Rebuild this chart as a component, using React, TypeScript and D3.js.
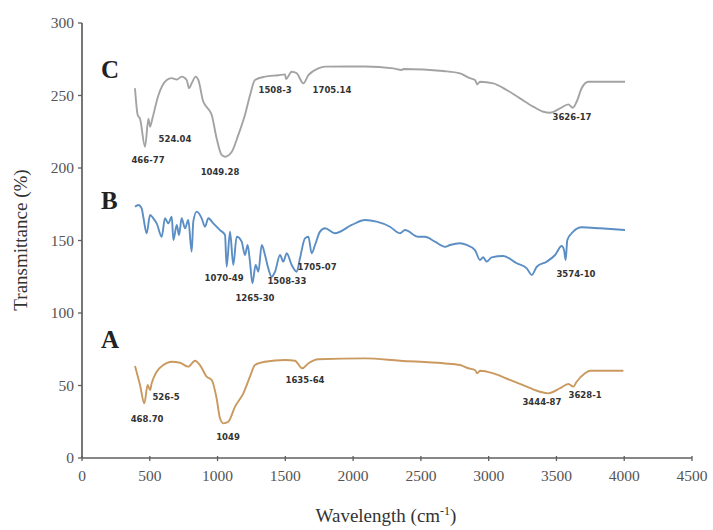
import React from "react";
import * as d3 from "d3";

const W = 713;
const H = 530;

const xTicks = [0, 500, 1000, 1500, 2000, 2500, 3000, 3500, 4000, 4500];
const yTicks = [0, 50, 100, 150, 200, 250, 300];

// Spectrum C (gray)
const cWave = [391, 411, 428, 465, 490, 502, 519, 563, 625, 662, 699, 735, 772, 790, 809, 839, 858, 895, 920, 957, 993, 1030, 1055, 1104, 1153, 1202, 1239, 1276, 1350, 1448, 1498, 1505, 1547, 1584, 1633, 1670, 1743, 1793, 2088, 2296, 2358, 2370, 2665, 2789, 2838, 2862, 2899, 2916, 2936, 3034, 3133, 3231, 3329, 3403, 3452, 3526, 3588, 3620, 3649, 3686, 3735, 4006];
const cTrans = [255, 236.5, 234, 214.7, 234, 228.5, 234, 250, 260.7, 262, 261, 263, 260.7, 255, 258.4, 263, 260.7, 245.7, 242, 236.5, 220.5, 209, 207.8, 211, 222.8, 236.5, 250, 260.7, 263, 264, 264.6, 261.4, 266.4, 265.3, 258.4, 264, 268.7, 269.9, 270, 268.7, 267.6, 268.3, 266.9, 265.3, 263, 261.9, 260.7, 257.7, 259.5, 258.4, 253.8, 248, 242.3, 238.8, 238.1, 241.1, 243.9, 241.6, 245.7, 255, 259.5, 259.5];

// Spectrum B (blue)
const bWave = [391, 416, 440, 452, 477, 502, 526, 551, 588, 612, 637, 662, 674, 699, 716, 735, 760, 784, 809, 821, 846, 883, 907, 932, 969, 1018, 1055, 1067, 1092, 1116, 1141, 1178, 1202, 1222, 1239, 1257, 1281, 1301, 1326, 1350, 1374, 1399, 1424, 1461, 1485, 1510, 1547, 1584, 1608, 1645, 1670, 1694, 1719, 1756, 1793, 1866, 1990, 2088, 2174, 2272, 2346, 2383, 2481, 2530, 2604, 2678, 2715, 2789, 2838, 2899, 2936, 2960, 2985, 3022, 3108, 3207, 3281, 3318, 3355, 3428, 3490, 3539, 3556, 3568, 3580, 3624, 3686, 3821, 4006];
const bTrans = [173.3, 174.5, 172.2, 166.4, 155, 167.6, 165.3, 161.8, 152.6, 165.3, 161.8, 166.4, 150.3, 160.7, 153.8, 165.3, 158.4, 164.1, 142.3, 163, 169.9, 165.3, 159.5, 165.3, 161.8, 157.2, 153.8, 131.9, 156.1, 133.1, 152.6, 149.2, 140, 146.9, 135.4, 120.5, 133.1, 128.5, 146.9, 140, 130.8, 125, 128.5, 140, 135.4, 141.2, 133.1, 128.5, 137.7, 151.5, 152.6, 141.2, 146.9, 156.1, 158.4, 155, 160.7, 164.1, 163, 159.5, 155, 157.2, 152.6, 152.6, 149.2, 145.7, 146.9, 148.1, 146.9, 143.4, 136.6, 138.4, 135.4, 138.4, 139.3, 134.3, 130.8, 126.2, 131.9, 135.4, 140, 146.2, 143.4, 136.6, 150.3, 156.1, 159.1, 158.4, 157.2];

// Spectrum A (tan)
const aWave = [391, 428, 460, 484, 502, 514, 551, 600, 662, 723, 784, 834, 870, 920, 957, 993, 1018, 1043, 1079, 1129, 1190, 1239, 1276, 1350, 1498, 1571, 1625, 1670, 1743, 2088, 2346, 2665, 2789, 2850, 2899, 2916, 2936, 3034, 3157, 3281, 3379, 3440, 3526, 3588, 3624, 3649, 3711, 3748, 3994];
const aTrans = [63.4, 50.3, 37.7, 50.3, 46.9, 51.5, 59.5, 64.1, 66.4, 65.7, 63, 67.1, 64.1, 56.1, 53.8, 41.2, 27.4, 23.9, 25, 35.4, 44.6, 56.1, 64.1, 66.4, 67.6, 67.1, 61.9, 65.3, 68.1, 68.7, 67.1, 65.3, 64.1, 61.9, 60.7, 58.4, 60.2, 58.4, 53.8, 49.2, 45.7, 44.6, 48.1, 51, 49.2, 52.6, 58.4, 60.2, 60.2];

// Peak annotations (text, anchor wavenumber, anchor transmittance)
const peakText = ["466-77", "524.04", "1049.28", "1508-3", "1705.14", "3626-17", "1070-49", "1265-30", "1508-33", "1705-07", "3574-10", "468.70", "526-5", "1049", "1635-64", "3444-87", "3628-1"];
const peakX = [487, 686, 1018, 1424, 1844, 3615, 1048, 1276, 1512, 1734, 3644, 480, 620, 1077, 1645, 3393, 3711];
const peakY = [203.4, 218, 195, 252, 252, 233, 122, 108, 120, 129.7, 125, 24.8, 40, 12.4, 51.7, 36.6, 41.4];

// Panel letters
const panelText = ["C", "B", "A"];
const panelX = [140, 140, 140];
const panelY = [262, 172, 76];

const series = [
  { wave: cWave, trans: cTrans, color: "#a3a3a3" },
  { wave: bWave, trans: bTrans, color: "#5b8ec4" },
  { wave: aWave, trans: aTrans, color: "#c9995f" },
];

export default function App() {
  const x = d3.scaleLinear().domain([0, 4500]).range([82, 692]);
  const y = d3.scaleLinear().domain([0, 300]).range([458, 23]);
  const axisColor = "#5f5f5f";
  const tickColor = "#555";

  return (
    <svg
      width={W}
      height={H}
      viewBox={`0 0 ${W} ${H}`}
      style={{ position: "absolute", left: 0, top: 0, background: "#fff", display: "block" }}
    >
      <rect x={0} y={0} width={W} height={H} fill="#fff" />
      {/* axes */}
      <line x1={x(0)} x2={x(4500)} y1={y(0)} y2={y(0)} stroke={axisColor} strokeWidth={1.7} />
      <line x1={x(0)} x2={x(0)} y1={y(0)} y2={y(300)} stroke={axisColor} strokeWidth={1.7} />
      {xTicks.map((t) => (
        <g key={"xt" + t}>
          <line x1={x(t)} x2={x(t)} y1={y(0) - 2} y2={y(0) + 3} stroke={axisColor} strokeWidth={1.3} />
          <text
            x={x(t)}
            y={y(0) + 23}
            textAnchor="middle"
            fontFamily="'Liberation Serif', 'Times New Roman', serif"
            fontSize={15.5}
            fill={tickColor}
          >
            {t}
          </text>
        </g>
      ))}
      {yTicks.map((t) => (
        <g key={"yt" + t}>
          <line x1={x(0) - 4} x2={x(0)} y1={y(t)} y2={y(t)} stroke={axisColor} strokeWidth={1.3} />
          <text
            x={x(0) - 8}
            y={y(t) + 5}
            textAnchor="end"
            fontFamily="'Liberation Serif', 'Times New Roman', serif"
            fontSize={15.5}
            fill={tickColor}
          >
            {t}
          </text>
        </g>
      ))}
      {/* axis titles */}
      <text
        transform={`translate(27, ${240}) rotate(-90)`}
        textAnchor="middle"
        fontFamily="'Liberation Serif', 'Times New Roman', serif"
        fontSize={19}
        fill="#333"
      >
        Transmittance (%)
      </text>
      <text
        x={386}
        y={522}
        textAnchor="middle"
        fontFamily="'Liberation Serif', 'Times New Roman', serif"
        fontSize={19}
        fill="#333"
      >
        Wavelength (cm
        <tspan dy={-7} fontSize={12}>-1</tspan>
        <tspan dy={7}>)</tspan>
      </text>
      {/* spectra */}
      {series.map((s, i) => {
        const pts: [number, number][] = s.wave.map((w, k) => [w, s.trans[k]]);
        const path = d3
          .line<[number, number]>()
          .x((d) => x(d[0]))
          .y((d) => y(d[1]))
          .curve(d3.curveMonotoneX)(pts);
        return (
          <path
            key={"s" + i}
            d={path || ""}
            fill="none"
            stroke={s.color}
            strokeWidth={1.9}
            strokeLinejoin="round"
          />
        );
      })}
      {/* panel letters */}
      {panelText.map((t, i) => (
        <text
          key={"p" + t}
          x={x(panelX[i])}
          y={y(panelY[i])}
          fontFamily="'Liberation Serif', 'Times New Roman', serif"
          fontWeight="bold"
          fontSize={25}
          fill="#222"
        >
          {t}
        </text>
      ))}
      {/* peak labels */}
      {peakText.map((t, i) => (
        <text
          key={"pk" + i}
          x={x(peakX[i])}
          y={y(peakY[i])}
          textAnchor="middle"
          fontFamily="'DejaVu Sans', Verdana, sans-serif"
          fontWeight="bold"
          fontSize={8.5}
          fill="#333"
        >
          {t}
        </text>
      ))}
    </svg>
  );
}
